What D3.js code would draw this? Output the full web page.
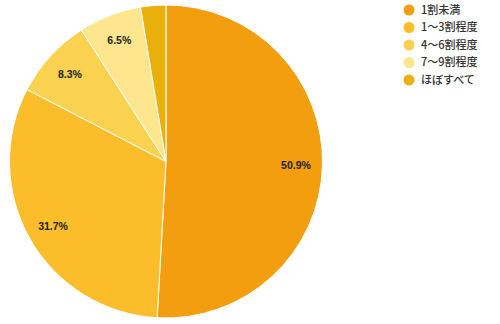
<!DOCTYPE html>
<html><head><meta charset="utf-8">
<script src="https://cdn.jsdelivr.net/npm/d3@7"></script>
<style>body{margin:0;background:#fff}svg{display:block}</style>
</head><body>
<svg id="c" width="500" height="324"></svg>
<script>
const categories = ["1割未満","1〜3割程度","4〜6割程度","7〜9割程度","ほぼすべて"];
const values = [50.9, 31.7, 8.3, 6.5, 2.6];
const colors = ["#F39E0E","#FBBD2A","#FBD24F","#FDE68E","#E9AF0B"];

const svg = d3.select("#c");
const cx = 166, cy = 161.5, R = 156.5;
const pie = d3.pie().sort(null).value(d => d.v);
const data = pie(categories.map((c,i)=>({c, v: values[i], col: colors[i]})));
const arc = d3.arc().innerRadius(0).outerRadius(R);
const labelArc = d3.arc().innerRadius(130).outerRadius(130);
const g = svg.append("g").attr("transform", `translate(${cx},${cy})`);
g.selectAll("path").data(data).join("path")
  .attr("d", arc).attr("fill", d => d.data.col)
  .attr("stroke", "#fff").attr("stroke-width", 1);
g.selectAll("text").data(data.filter(d => d.data.v >= 5)).join("text")
  .attr("transform", d => `translate(${labelArc.centroid(d)})`)
  .attr("text-anchor", "middle").attr("dy", "0.35em")
  .attr("font-family", "Arial, 'Liberation Sans', sans-serif")
  .attr("font-size", 10.5).attr("font-weight", "bold").attr("fill", "#222")
  .text(d => d.data.v.toFixed(1) + "%");

const lg = svg.append("g").attr("transform", "translate(409,10)");
const items = lg.selectAll("g").data(categories).join("g")
  .attr("transform", (d,i) => `translate(0,${i*17.5})`);
items.append("circle").attr("r", 5.5).attr("fill", (d,i) => colors[i]);
items.append("text").attr("x", 12).attr("dy", "0.35em")
  .attr("font-family", "'Noto Sans CJK JP', sans-serif")
  .attr("font-size", 11).attr("font-weight", 500).attr("fill", "#333").text(d => d);
</script>
</body></html>
